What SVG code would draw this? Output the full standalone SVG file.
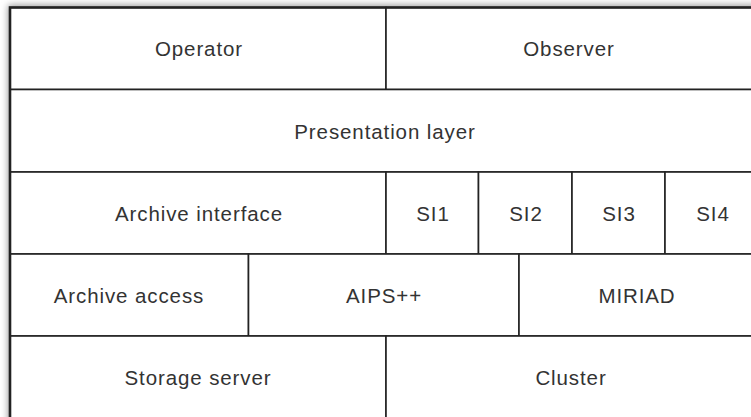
<svg xmlns="http://www.w3.org/2000/svg" width="751" height="417" viewBox="0 0 751 417">
<defs>
<filter id="sh" x="-5%" y="-5%" width="110%" height="110%">
<feGaussianBlur stdDeviation="3.5"/>
</filter>
<style>
.c{fill:#fff;stroke:#222;stroke-width:1.6}
.t{font-family:"Liberation Sans",Arial,sans-serif;font-size:20.5px;letter-spacing:0.9px;fill:#333;text-anchor:middle;dominant-baseline:central}
</style>
</defs>
<rect x="8" y="5" width="760" height="430" fill="#999" filter="url(#sh)"/>
<g id="operator"><rect class="c" x="10" y="7.5" width="376" height="82"/><text class="t" x="199" y="48">Operator</text></g>
<g id="observer"><rect class="c" x="386" y="7.5" width="372" height="82"/><text class="t" x="569" y="48">Observer</text></g>
<g id="presentation"><rect class="c" x="10" y="89.5" width="748" height="82.5"/><text class="t" x="385" y="131">Presentation layer</text></g>
<g id="archive-interface"><rect class="c" x="10" y="172" width="376" height="82"/><text class="t" x="199" y="213">Archive interface</text></g>
<g id="si1"><rect class="c" x="386" y="172" width="92.5" height="82"/><text class="t" x="433" y="213">SI1</text></g>
<g id="si2"><rect class="c" x="478.5" y="172" width="93.5" height="82"/><text class="t" x="526" y="213">SI2</text></g>
<g id="si3"><rect class="c" x="572" y="172" width="93" height="82"/><text class="t" x="619" y="213">SI3</text></g>
<g id="si4"><rect class="c" x="665" y="172" width="93" height="82"/><text class="t" x="713" y="213">SI4</text></g>
<g id="archive-access"><rect class="c" x="10" y="254" width="238.5" height="82"/><text class="t" x="129" y="295">Archive access</text></g>
<g id="aips"><rect class="c" x="248.5" y="254" width="270.5" height="82"/><text class="t" x="384" y="295">AIPS++</text></g>
<g id="miriad"><rect class="c" x="519" y="254" width="239" height="82"/><text class="t" x="637" y="295">MIRIAD</text></g>
<g id="storage"><rect class="c" x="10" y="336" width="376" height="90"/><text class="t" x="198" y="377">Storage server</text></g>
<g id="cluster"><rect class="c" x="386" y="336" width="372" height="90"/><text class="t" x="571" y="377">Cluster</text></g>
<g id="connectors"/>
<path d="M10 430V7.5H760" fill="none" stroke="#222" stroke-width="2.6"/>
</svg>
